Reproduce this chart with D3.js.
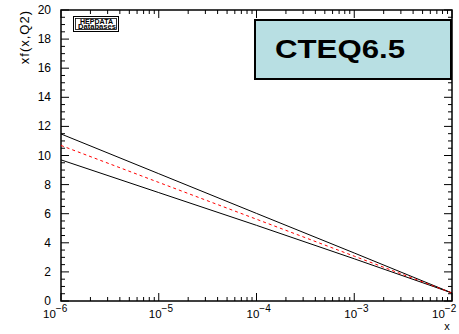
<!DOCTYPE html>
<html>
<head>
<meta charset="utf-8">
<script src="https://cdn.jsdelivr.net/npm/d3@7"></script>
<style>
  body { margin: 0; background: #fff; }
  svg { display: block; font-family: "Liberation Sans", Arial, sans-serif; }
</style>
</head>
<body>
<div id="chart"></div>
<script>
// x values (decades) and the three curves
const xValues = [1e-6, 1e-5, 1e-4, 1e-3, 1e-2];
const upperBand = [11.48, 8.75, 6.02, 3.30, 0.55];
const central = [10.69, 8.15, 5.62, 3.08, 0.55];
const lowerBand = [9.70, 7.45, 5.20, 2.90, 0.55];
const yTicks = [0, 2, 4, 6, 8, 10, 12, 14, 16, 18, 20];
const xTickExp = [-6, -5, -4, -3, -2];

const width = 459, height = 334;
const margin = { left: 61, right: 7, top: 10, bottom: 33 };

const svg = d3.select('#chart')
  .append('svg')
  .attr('width', width)
  .attr('height', height);

const x = d3.scaleLog()
  .domain([1e-6, 1e-2])
  .range([margin.left, width - margin.right]);

const y = d3.scaleLinear()
  .domain([0, 20])
  .range([height - margin.bottom, margin.top]);

const x0 = x.range()[0], x1 = x.range()[1];
const y0 = y.range()[0], y1 = y.range()[1];

// minor ticks (2..9 in each decade) and y minor every 0.5
const xMinor = [];
for (let e = -6; e < -2; e++) {
  for (let m = 2; m <= 9; m++) xMinor.push(m * Math.pow(10, e));
}
const yMinor = d3.range(0, 20.01, 0.5).filter(v => v % 2 !== 0);

const ticks = svg.append('g').attr('stroke', '#000').attr('stroke-width', 1);

// bottom and top
xTickExp.forEach(e => {
  const px = x(Math.pow(10, e));
  ticks.append('line').attr('x1', px).attr('x2', px).attr('y1', y0).attr('y2', y0 - 8);
  ticks.append('line').attr('x1', px).attr('x2', px).attr('y1', y1).attr('y2', y1 + 8);
});
xMinor.forEach(v => {
  const px = x(v);
  ticks.append('line').attr('x1', px).attr('x2', px).attr('y1', y0).attr('y2', y0 - 4);
  ticks.append('line').attr('x1', px).attr('x2', px).attr('y1', y1).attr('y2', y1 + 4);
});

// left and right
yTicks.forEach(v => {
  const py = y(v);
  ticks.append('line').attr('x1', x0).attr('x2', x0 + 8).attr('y1', py).attr('y2', py);
  ticks.append('line').attr('x1', x1).attr('x2', x1 - 8).attr('y1', py).attr('y2', py);
});
yMinor.forEach(v => {
  const py = y(v);
  ticks.append('line').attr('x1', x0).attr('x2', x0 + 4).attr('y1', py).attr('y2', py);
  ticks.append('line').attr('x1', x1).attr('x2', x1 - 4).attr('y1', py).attr('y2', py);
});

// frame
svg.append('rect')
  .attr('x', x0).attr('y', y1)
  .attr('width', x1 - x0).attr('height', y0 - y1)
  .attr('fill', 'none')
  .attr('stroke', '#000')
  .attr('stroke-width', 1.5);

// y tick labels
svg.append('g')
  .selectAll('text')
  .data(yTicks)
  .enter()
  .append('text')
  .attr('x', x0 - 10)
  .attr('y', d => y(d) + 4)
  .attr('text-anchor', 'end')
  .style('font-size', '12px')
  .text(d => d);

// x tick labels: 10^n, edge labels nudged to stay inside
const xl = svg.append('g')
  .selectAll('text')
  .data(xTickExp)
  .enter()
  .append('text')
  .attr('x', d => x(Math.pow(10, d)) - (d === -6 ? 18 : d === -2 ? 20 : 10))
  .attr('y', y0 + 17)
  .style('font-size', '11.5px');
xl.append('tspan').text('10');
xl.append('tspan')
  .attr('dy', -6)
  .style('font-size', '10px')
  .text(d => '\u2212' + Math.abs(d));

// axis titles
svg.append('text')
  .attr('x', 447)
  .attr('y', 330)
  .attr('text-anchor', 'middle')
  .style('font-size', '11px')
  .text('x');

svg.append('text')
  .attr('transform', 'translate(29, 10) rotate(-90)')
  .attr('text-anchor', 'end')
  .style('font-size', '13px')
  .style('letter-spacing', '1px')
  .text('xf(x,Q2)');

// curves
const line = d3.line()
  .x((d, i) => x(xValues[i]))
  .y(d => y(d));

[upperBand, lowerBand].forEach(s => {
  svg.append('path')
    .attr('d', line(s))
    .attr('fill', 'none')
    .attr('stroke', '#000')
    .attr('stroke-width', 1);
});

svg.append('path')
  .attr('d', line(central))
  .attr('fill', 'none')
  .attr('stroke', '#ff0000')
  .attr('stroke-width', 1)
  .attr('stroke-dasharray', '3,3');

// HEPDATA logo box
const logo = svg.append('g');
logo.append('rect')
  .attr('x', 73.5).attr('y', 16.5).attr('width', 45).attr('height', 15)
  .attr('fill', '#fff').attr('stroke', '#000').attr('stroke-width', 1);
logo.append('rect')
  .attr('x', 75.5).attr('y', 18.5).attr('width', 41).attr('height', 11)
  .attr('fill', 'none').attr('stroke', '#000').attr('stroke-width', 0.8);
logo.append('text')
  .attr('x', 80).attr('y', 23.5)
  .attr('textLength', 33)
  .attr('lengthAdjust', 'spacingAndGlyphs')
  .style('font-size', '6.5px')
  .style('font-weight', 'bold')
  .text('HEPDATA');
logo.append('text')
  .attr('x', 78).attr('y', 29)
  .attr('textLength', 38)
  .attr('lengthAdjust', 'spacingAndGlyphs')
  .style('font-size', '6.5px')
  .style('font-weight', 'bold')
  .text('Databases');

// CTEQ6.5 label box
svg.append('rect')
  .attr('x', 255).attr('y', 20)
  .attr('width', 196).attr('height', 59)
  .attr('fill', '#b8dfe3')
  .attr('stroke', '#000')
  .attr('stroke-width', 2);

svg.append('text')
  .attr('x', 275)
  .attr('y', 58)
  .attr('textLength', 130)
  .attr('lengthAdjust', 'spacingAndGlyphs')
  .style('font-size', '26px')
  .style('font-weight', 'bold')
  .text('CTEQ6.5');
</script>
</body>
</html>
